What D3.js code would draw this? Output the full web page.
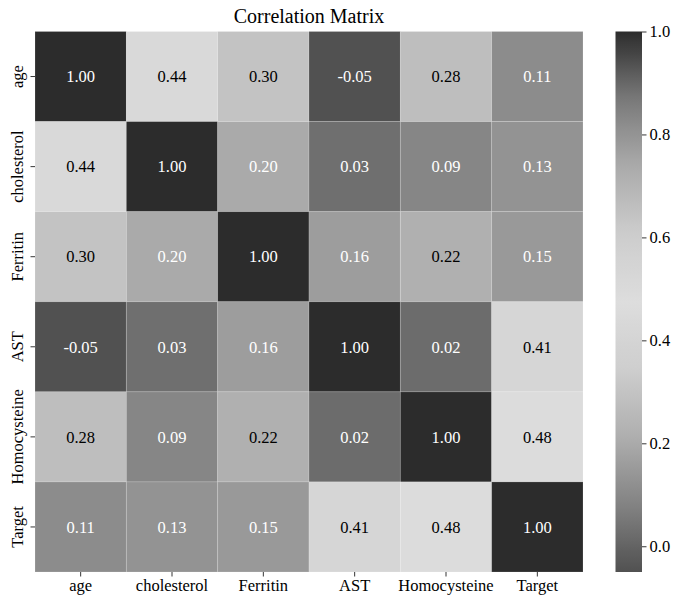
<!DOCTYPE html>
<html>
<head>
<meta charset="utf-8">
<script src="https://cdn.jsdelivr.net/npm/d3@7"></script>
<style>
  html, body { margin: 0; padding: 0; background: #fff; }
  svg { display: block; }
  text { font-family: "Liberation Serif", "DejaVu Serif", serif; }
</style>
</head>
<body>
<svg id="chart" width="673" height="598"></svg>
<script>
// ---- data ----
const variables = ["age", "cholesterol", "Ferritin", "AST", "Homocysteine", "Target"];
const rowAge          = [1.00, 0.44, 0.30, -0.05, 0.28, 0.11];
const rowCholesterol  = [0.44, 1.00, 0.20, 0.03, 0.09, 0.13];
const rowFerritin     = [0.30, 0.20, 1.00, 0.16, 0.22, 0.15];
const rowAST          = [-0.05, 0.03, 0.16, 1.00, 0.02, 0.41];
const rowHomocysteine = [0.28, 0.09, 0.22, 0.02, 1.00, 0.48];
const rowTarget       = [0.11, 0.13, 0.15, 0.41, 0.48, 1.00];
const matrix = [rowAge, rowCholesterol, rowFerritin, rowAST, rowHomocysteine, rowTarget];
const colorbarTicks = [0.0, 0.2, 0.4, 0.6, 0.8, 1.0];
const title = "Correlation Matrix";

const SERIF = '"Liberation Serif", "DejaVu Serif", serif';

// ---- colormap: coolwarm rendered in grayscale ----
const coolwarmStops = [
  [59,76,192],[98,130,234],[141,176,254],[184,208,249],[221,221,221],
  [245,196,173],[244,154,123],[222,96,77],[180,4,38]
];
const cwInterp = d3.piecewise(d3.interpolateRgb, coolwarmStops.map(c => d3.rgb(c[0],c[1],c[2])));
function lin(c){ c/=255; return c<=0.04045? c/12.92 : Math.pow((c+0.055)/1.055,2.4); }
function relLum(rgb){ return 0.2126*lin(rgb.r)+0.7152*lin(rgb.g)+0.0722*lin(rgb.b); }
function grayOf(rgb){
  const g = Math.round(0.2126*rgb.r + 0.7152*rgb.g + 0.0722*rgb.b);
  return d3.rgb(g,g,g).formatHex();
}
const fmt2 = v => v.toFixed(2);
const fmt1 = v => v.toFixed(1);

const allVals = matrix.flat();
const vmin = d3.min(allVals), vmax = d3.max(allVals);
const norm = d3.scaleLinear().domain([vmin, vmax]).range([0, 1]).clamp(true);
const colorRGB = v => d3.rgb(cwInterp(norm(v)));
const color = v => grayOf(colorRGB(v));

// ---- layout ----
const svg = d3.select("#chart");
const X0 = 35, X1 = 583, Y0 = 31.5, Y1 = 572;
const CB0 = 615.5, CB1 = 642;

const x = d3.scaleBand().domain(variables).range([X0, X1]);
const y = d3.scaleBand().domain(variables).range([Y0, Y1]);

const cells = [];
matrix.forEach((row, i) => row.forEach((v, j) => cells.push({r: variables[i], c: variables[j], v})));

svg.append("g").selectAll("rect").data(cells).join("rect")
  .attr("x", d => x(d.c)).attr("y", d => y(d.r))
  .attr("width", x.bandwidth()).attr("height", y.bandwidth())
  .attr("fill", d => color(d.v))
  .attr("stroke", "#ffffff").attr("stroke-opacity", 0.2).attr("stroke-width", 0.8);

svg.append("g").selectAll("text").data(cells).join("text")
  .attr("x", d => x(d.c) + x.bandwidth()/2)
  .attr("y", d => y(d.r) + y.bandwidth()/2)
  .attr("dy", "0.35em")
  .attr("text-anchor", "middle")
  .attr("font-family", SERIF)
  .attr("font-size", "16.5px")
  .attr("fill", d => relLum(colorRGB(d.v)) > 0.425 ? "#000000" : "#ffffff")
  .text(d => fmt2(d.v));

// x axis
const xAxis = svg.append("g").attr("transform", `translate(0,${Y1})`)
  .call(d3.axisBottom(x).tickSize(4.5).tickPadding(3));
xAxis.attr("font-family", SERIF);
xAxis.select(".domain").remove();
xAxis.selectAll("text").attr("font-size", "16.5px").attr("fill", "#000");
xAxis.selectAll("line").attr("stroke", "#000").attr("stroke-width", 0.8);

// y axis
const yAxis = svg.append("g").attr("transform", `translate(${X0},0)`)
  .call(d3.axisLeft(y).tickSize(4.5).tickPadding(5));
yAxis.attr("font-family", SERIF);
yAxis.select(".domain").remove();
yAxis.selectAll("line").attr("stroke", "#000").attr("stroke-width", 0.8);
yAxis.selectAll("text")
  .attr("font-size", "16.5px").attr("fill", "#000")
  .attr("text-anchor", "middle")
  .attr("x", null).attr("dy", null)
  .attr("transform", "translate(-12,0) rotate(-90)");

// title
svg.append("text").attr("x", (X0 + X1)/2).attr("y", 23)
  .attr("text-anchor", "middle").attr("font-size", "20px").attr("fill", "#000")
  .attr("font-family", SERIF)
  .text(title);

// colorbar
const cbScale = d3.scaleLinear().domain([vmin, vmax]).range([Y1, Y0]);
const defs = svg.append("defs");
const grad = defs.append("linearGradient").attr("id", "cbgrad")
  .attr("x1", 0).attr("y1", 1).attr("x2", 0).attr("y2", 0);
d3.range(0, 1.0001, 0.02).forEach(t => {
  grad.append("stop").attr("offset", t).attr("stop-color", grayOf(d3.rgb(cwInterp(t))));
});
svg.append("rect").attr("x", CB0).attr("y", Y0).attr("width", CB1 - CB0).attr("height", Y1 - Y0)
  .attr("fill", "url(#cbgrad)");
const cbAxis = svg.append("g").attr("transform", `translate(${CB1},0)`)
  .call(d3.axisRight(cbScale).tickValues(colorbarTicks).tickFormat(fmt1).tickSize(4.5).tickPadding(3));
cbAxis.attr("font-family", SERIF);
cbAxis.select(".domain").remove();
cbAxis.selectAll("line").attr("stroke", "#000").attr("stroke-width", 0.8);
cbAxis.selectAll("text").attr("font-size", "16.5px").attr("fill", "#000");
</script>
</body>
</html>
